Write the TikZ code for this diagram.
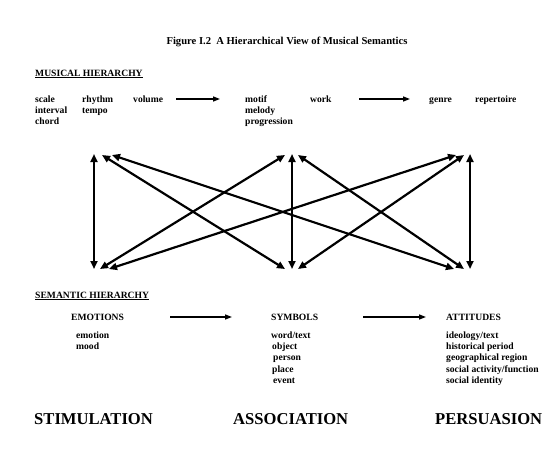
\documentclass[tikz,border=0pt]{standalone}
\usepackage{fontspec}
\setmainfont{Liberation Serif}
\usetikzlibrary{arrows.meta}
\tikzset{
  txt/.style={anchor=base west,inner sep=0pt,font=\fontsize{9.6}{11}\selectfont\bfseries},
  head/.style={anchor=base west,inner sep=0pt,font=\fontsize{9.6}{11}\selectfont\bfseries},
  big/.style={anchor=base west,inner sep=0pt,font=\fontsize{16.6}{19}\selectfont\bfseries},
  flow/.style={line width=1.3pt,-{Triangle[length=7pt,width=5pt]}},
  link/.style={line width=2.2pt,{Triangle[length=8pt,width=7pt]}-{Triangle[length=8pt,width=7pt]},shorten <=0pt,shorten >=0pt}
}
\begin{document}
\begin{tikzpicture}[x=1pt,y=-1pt]
\useasboundingbox (0,0) rectangle (556,452);
% title
\node[anchor=base,inner sep=0pt,font=\fontsize{10.6}{12}\selectfont\bfseries] (title) at (287,45) {Figure I.2\ \ A Hierarchical View of Musical Semantics};
% musical hierarchy
\node[head] (mh) at (35,76) {\underline{MUSICAL HIERARCHY}};
\node[txt] (scale) at (35,102) {scale};
\node[txt] (interval) at (35,113.4) {interval};
\node[txt] (chord) at (35,124.8) {chord};
\node[txt] (rhythm) at (82,102) {rhythm};
\node[txt] (tempo) at (82,113.4) {tempo};
\node[txt] (volume) at (133,102) {volume};
\node[txt] (motif) at (245,102) {motif};
\node[txt] (melody) at (245,113.4) {melody};
\node[txt] (progression) at (245,124.8) {progression};
\node[txt] (work) at (310,102) {work};
\node[txt] (genre) at (429,102) {genre};
\node[txt] (repertoire) at (475,102) {repertoire};
\coordinate (ma1) at (176,99);
\coordinate (ma2) at (220,99);
\coordinate (mb1) at (359,99);
\coordinate (mb2) at (410,99);
\draw[flow] (ma1) -- (ma2);
\draw[flow] (mb1) -- (mb2);
% links
\coordinate (lv1) at (94,154);
\coordinate (lv2) at (94,269);
\coordinate (mv1) at (292,154);
\coordinate (mv2) at (292,269);
\coordinate (rv1) at (470,154);
\coordinate (rv2) at (470,269);
\coordinate (a1) at (102,155);
\coordinate (a2) at (285,269);
\coordinate (b1) at (112,155);
\coordinate (b2) at (454,269);
\coordinate (c1) at (285,155);
\coordinate (c2) at (100,269);
\coordinate (d1) at (298,155);
\coordinate (d2) at (464,269);
\coordinate (e1) at (456,155);
\coordinate (e2) at (109,269);
\coordinate (f1) at (464,155);
\coordinate (f2) at (298,269);
\draw[link] (lv1) -- (lv2);
\draw[link] (mv1) -- (mv2);
\draw[link] (rv1) -- (rv2);
\draw[link] (a1) -- (a2);
\draw[link] (b1) -- (b2);
\draw[link] (c1) -- (c2);
\draw[link] (d1) -- (d2);
\draw[link] (e1) -- (e2);
\draw[link] (f1) -- (f2);
% semantic hierarchy
\node[head] (sh) at (35,298) {\underline{SEMANTIC HIERARCHY}};
\node[txt] (emotions) at (71,320) {EMOTIONS};
\node[txt] (symbols) at (271,320) {SYMBOLS};
\node[txt] (attitudes) at (446,320) {ATTITUDES};
\coordinate (sa1) at (170,317);
\coordinate (sa2) at (232,317);
\coordinate (sb1) at (363,317);
\coordinate (sb2) at (426,317);
\draw[flow] (sa1) -- (sa2);
\draw[flow] (sb1) -- (sb2);
\node[txt] (emotion) at (76,338) {emotion};
\node[txt] (mood) at (76,349.4) {mood};
\node[txt] (wordtext) at (271,338) {word/text};
\node[txt] (object) at (272,349.4) {object};
\node[txt] (person) at (273,360.8) {person};
\node[txt] (place) at (272,372.2) {place};
\node[txt] (event) at (273,383.6) {event};
\node[txt] (ideology) at (446,338) {ideology/text};
\node[txt] (historical) at (446,349.4) {historical period};
\node[txt] (geo) at (446,360.8) {geographical region};
\node[txt] (social) at (446,372.2) {social activity/function};
\node[txt] (identity) at (446,383.6) {social identity};
% bottom
\node[big] (stim) at (34,424) {STIMULATION};
\node[big] (assoc) at (233,424) {ASSOCIATION};
\node[big] (pers) at (435,424) {PERSUASION};
\end{tikzpicture}
\end{document}
